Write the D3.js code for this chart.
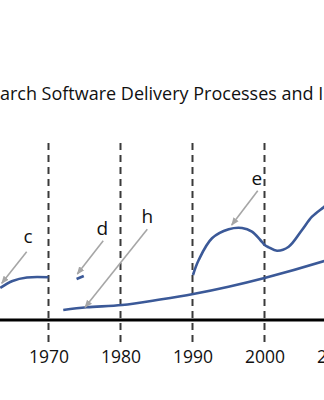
<!DOCTYPE html>
<html><head><meta charset="utf-8">
<script src="https://cdn.jsdelivr.net/npm/d3@7"></script>
<style>html,body{margin:0;padding:0;background:#fff;overflow:hidden}</style>
</head><body>
<script>
// ---- data (years on x, arbitrary "level" on y) ----
const titleText = "Research Software Delivery Processes and Infrastructure";
const decadeTicks = [1970, 1980, 1990, 2000, 2010];
const seriesC = [[1963.3,16],[1965,19.5],[1967,21.25],[1970,21.35]];
const seriesD = [[1973.9,20.5],[1974.9,22]];
const seriesH = [[1972.05,5],[1975.3,6.35],[1980.2,7.5],[1985.5,10.25],[1990.1,13],[1995.0,16.65],[2000.0,21],[2008.3,29.5],[2010,31.5]];
const seriesE = [[1990.07,22.5],[1990.86,30],[1992.71,40.85],[1995.03,45.35],[1996.88,46],[1998.26,44.15],[1999.42,40],[2000.03,37.5],[2000.58,36.35],[2001.74,34.65],[2003.36,36.65],[2005.21,45],[2006.6,51.65],[2008.26,56.5],[2009.5,60]];
const labels = ["c","d","h","e"];
const labelPos = [[1967.15,38.35],[1977.47,42.5],[1983.72,48.65],[1998.92,67.5]];
const arrowFrom = [[1966.97,34.15],[1977.6,39.65],[1983.72,45.35],[1999.06,64.65]];
const arrowTo = [[1963.5,18.35],[1974.0,23],[1975.07,6.35],[1995.44,47.5]];

const W = 324, H = 400;
const svg = d3.select("body").append("svg").attr("width", W).attr("height", H);

const x = d3.scaleLinear().domain([1970, 2000]).range([48.5, 264.5]);
const y = d3.scaleLinear().domain([0, 100]).range([320, 120]);

const font = "'Open Sans', sans-serif";

// title
svg.append("text").attr("x", -40).attr("y", 99.5)
  .attr("font-family", font).attr("font-size", 18).attr("fill", "#111")
  .text(titleText);

// dashed decade lines
svg.append("g").selectAll("line").data(decadeTicks).join("line")
  .attr("x1", d => x(d)).attr("x2", d => x(d))
  .attr("y1", y(88.5)).attr("y2", y(-12.5))
  .attr("stroke", "#3a3a3a").attr("stroke-width", 2).attr("stroke-dasharray", "7,5");

// base axis line
svg.append("line").attr("x1", 0).attr("x2", W).attr("y1", y(0)).attr("y2", y(0))
  .attr("stroke", "#000").attr("stroke-width", 3);

// tick labels
const ax = svg.append("g").attr("transform", `translate(0,${y(0)})`)
  .call(d3.axisBottom(x).tickValues(decadeTicks).tickFormat(d3.format("d")).tickSize(0).tickPadding(31));
ax.select(".domain").remove();
ax.selectAll("text").attr("font-family", font).attr("font-size", 17.5).attr("fill", "#111");

// curves
const line = d3.line().x(d => x(d[0])).y(d => y(d[1])).curve(d3.curveCatmullRom.alpha(0.5));
[seriesC, seriesD, seriesH, seriesE].forEach(s => {
  svg.append("path").attr("d", line(s)).attr("fill", "none")
    .attr("stroke", "#3b5998").attr("stroke-width", 2.6).attr("stroke-linecap", "butt");
});

// arrows
svg.append("defs").append("marker").attr("id", "ah")
  .attr("viewBox", "0 0 10 10").attr("refX", 9).attr("refY", 5)
  .attr("markerWidth", 5).attr("markerHeight", 5).attr("orient", "auto")
  .append("path").attr("d", "M0,1 L10,5 L0,9 Z").attr("fill", "#a6a6a6");
labels.forEach((t, i) => {
  svg.append("line")
    .attr("x1", x(arrowFrom[i][0])).attr("y1", y(arrowFrom[i][1]))
    .attr("x2", x(arrowTo[i][0])).attr("y2", y(arrowTo[i][1]))
    .attr("stroke", "#a6a6a6").attr("stroke-width", 1.6).attr("marker-end", "url(#ah)");
  svg.append("text").attr("x", x(labelPos[i][0])).attr("y", y(labelPos[i][1]))
    .attr("text-anchor", "middle").attr("font-family", font).attr("font-size", 19)
    .attr("fill", "#111").text(t);
});
</script>
</body></html>
